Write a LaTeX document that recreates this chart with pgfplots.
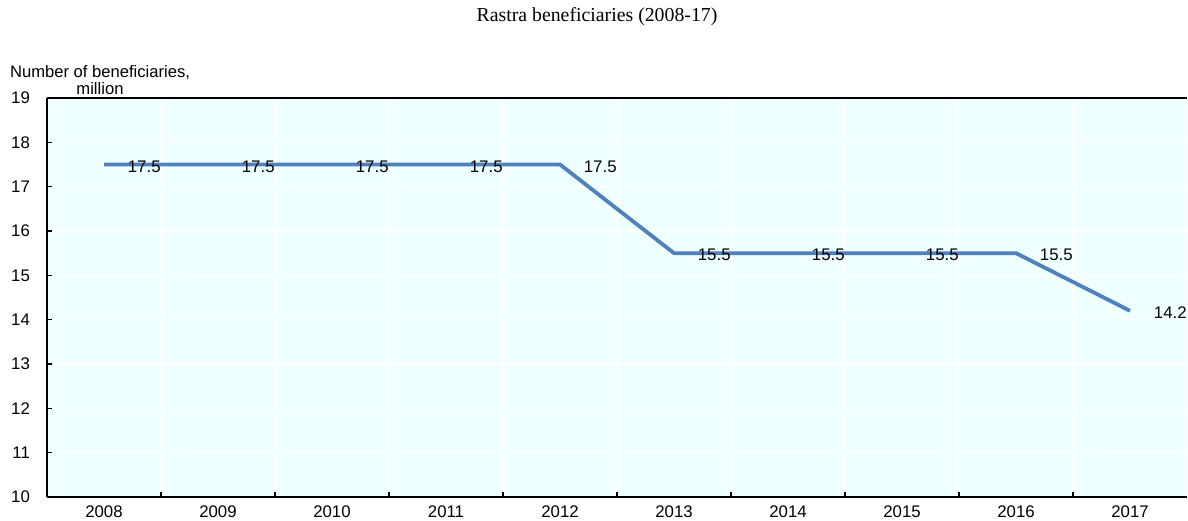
\documentclass[border=0pt]{standalone}
\usepackage{fontspec}
\setmainfont{Liberation Sans}
\newfontfamily\seriffont{Liberation Serif}
\usepackage{pgfplots}
\pgfplotsset{compat=1.18}
\definecolor{bg}{RGB}{240,255,255}
\definecolor{serie}{RGB}{79,129,189}
\begin{document}
\begin{tikzpicture}
\useasboundingbox (0,0) rectangle (594pt,260pt);
\begin{axis}[
  at={(23.5pt,11.5pt)}, anchor=south west,
  scale only axis, width=570pt, height=199.5pt,
  xmin=2007.5, xmax=2017.5, ymin=10, ymax=19,
  axis background/.style={fill=bg},
  axis x line*=bottom, axis y line*=left,
  axis line style={line width=1pt, black},
  tick align=inside,
  major tick length=2.5pt,
  tick style={black, line width=0.75pt},
  xtick={2008.5,2009.5,2010.5,2011.5,2012.5,2013.5,2014.5,2015.5,2016.5},
  xticklabels={},
  xmajorgrids,
  extra x ticks={2008,2009,2010,2011,2012,2013,2014,2015,2016,2017},
  extra x tick labels={2008,2009,2010,2011,2012,2013,2014,2015,2016,2017},
  extra x tick style={grid=none, tick style={draw=none}},
  ytick={10,11,12,13,14,15,16,17,18,19},
  ymajorgrids,
  major grid style={white, line width=0.75pt},
  /pgf/number format/assume math mode=true,
  tick label style={font=\fontsize{8.4}{9}\selectfont},
  yticklabel style={xshift=-5pt},
  xticklabel style={yshift=-1pt},
  nodes near coords,
  point meta=explicit symbolic,
  every node near coord/.append style={anchor=west, xshift=11pt, yshift=-1pt, inner sep=0pt, font=\fontsize{8.4}{9}\selectfont, black},
  clip=false,
]
\addplot[serie, line width=1.9pt, mark=none] coordinates {
  (2008,17.5)[17.5] (2009,17.5)[17.5] (2010,17.5)[17.5] (2011,17.5)[17.5]
  (2012,17.5)[17.5] (2013,15.5)[15.5] (2014,15.5)[15.5] (2015,15.5)[15.5]
  (2016,15.5)[15.5] (2017,14.2)[14.2]
};
\draw[line width=1pt, black] (rel axis cs:0,1) -- (rel axis cs:1,1);
\end{axis}
\node[font=\seriffont\fontsize{9.9}{11}\selectfont] at (298.5pt,251.5pt) {Rastra beneficiaries (2008-17)};
\node[align=center, font=\fontsize{8.3}{8.2}\selectfont, inner sep=0pt] at (50pt,220pt) {Number of beneficiaries,\\million};
\end{tikzpicture}
\end{document}
